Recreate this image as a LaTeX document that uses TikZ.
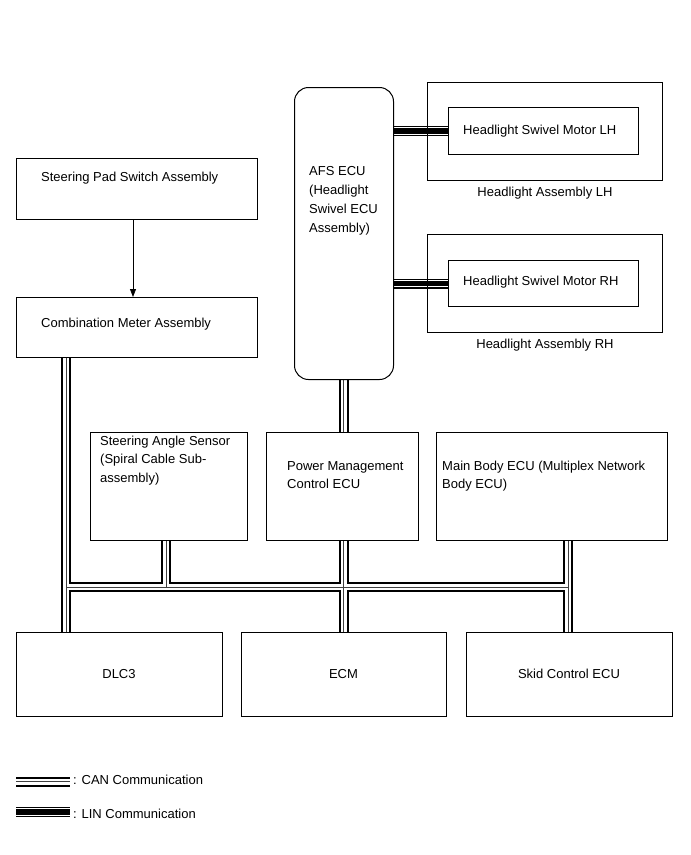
\documentclass[tikz,border=0pt]{standalone}
\usepackage{fontspec}
\setmainfont{Liberation Sans}
\usetikzlibrary{arrows.meta}
\pgfdeclarelayer{bg}
\pgfsetlayers{bg,main}
\newcommand\canroute{(cmeter.south -| cmx) -- (dlc.north -| cmx)
  (busL) -- (busR)
  (sas.south -| sasx) -- (busS)
  (afs.south -| pmx) -- (pmc.north -| pmx)
  (pmc.south -| pmx) -- (ecm.north -| pmx)
  (mbody.south -| mbx) -- (skid.north -| mbx)
  (lc1) -- (lc2)}
\newcommand\linroute{(afs.east |- lhmot.west) -- (lhmot.west)
  (afs.east |- rhmot.west) -- (rhmot.west)
  (ll1) -- (ll2)}
\begin{document}
\begin{tikzpicture}[x=1pt,y=-1pt,
  box/.style={draw, line width=1pt, rectangle, inner sep=0pt, anchor=north west},
  txt/.style={font=\fontsize{13}{19}\selectfont, inner sep=0pt, anchor=base west},
  ctxt/.style={font=\fontsize{13}{19}\selectfont, inner sep=0pt, anchor=base},
  canouter/.style={line width=10pt, black},
  caninner/.style={line width=6pt, white},
  canmid/.style={line width=0.8pt, black!75},
  linouter/.style={line width=10pt, black},
  lininner/.style={line width=7.6pt, white},
  lincore/.style={line width=5.5pt, black},
  arr/.style={line width=0.8pt, -{Triangle[length=8pt,width=6pt]}}
]
\useasboundingbox (0,0) rectangle (691,855);

% boxes
\node[box, minimum width=241pt, minimum height=61pt] (spad) at (16,158) {};
\node[box, minimum width=241pt, minimum height=60pt] (cmeter) at (16,297) {};
\node[box, rounded corners=14pt, minimum width=99pt, minimum height=292pt] (afs) at (294,87) {};
\node[box, minimum width=235pt, minimum height=98pt] (lhout) at (427,82) {};
\node[box, minimum width=190pt, minimum height=47pt] (lhmot) at (448,107) {};
\node[box, minimum width=235pt, minimum height=98pt] (rhout) at (427,234) {};
\node[box, minimum width=190pt, minimum height=46pt] (rhmot) at (448,260) {};
\node[box, minimum width=157pt, minimum height=108pt] (sas) at (90,432) {};
\node[box, minimum width=152pt, minimum height=108pt] (pmc) at (266,432) {};
\node[box, minimum width=231pt, minimum height=108pt] (mbody) at (436,432) {};
\node[box, minimum width=206pt, minimum height=84pt] (dlc) at (16,632) {};
\node[box, minimum width=205pt, minimum height=84pt] (ecm) at (241,632) {};
\node[box, minimum width=206pt, minimum height=84pt] (skid) at (466,632) {};

% texts
\node[txt] (t1) at (41,181) {Steering Pad Switch Assembly};
\node[txt] (t2) at (41,327) {Combination Meter Assembly};
\node[txt] (a1) at (309,175) {AFS ECU};
\node[txt] (a2) at (309,194) {(Headlight};
\node[txt] (a3) at (309,213) {Swivel ECU};
\node[txt] (a4) at (309,232) {Assembly)};
\node[txt] (m1) at (463,134) {Headlight Swivel Motor LH};
\node[txt] (m2) at (463,285) {Headlight Swivel Motor RH};
\node[ctxt] (h1) at (545,196) {Headlight Assembly LH};
\node[ctxt] (h2) at (545,348) {Headlight Assembly RH};
\node[txt] (s1) at (100,445) {Steering Angle Sensor};
\node[txt] (s2) at (100,463) {(Spiral Cable Sub-};
\node[txt] (s3) at (100,482) {assembly)};
\node[txt] (p1) at (287,470) {Power Management};
\node[txt] (p2) at (287,488) {Control ECU};
\node[txt] (b1) at (442,470) {Main Body ECU (Multiplex Network};
\node[txt] (b2) at (442,488) {Body ECU)};
\node[ctxt] (d1) at (119,678) {DLC3};
\node[ctxt] (e1) at (343.5,678) {ECM};
\node[ctxt] (k1) at (569,678) {Skid Control ECU};
\node[txt] (lg1) at (73,784) {: CAN Communication};
\node[txt] (lg2) at (73,818) {: LIN Communication};

% coordinates
\coordinate (cmx) at (66,0);
\coordinate (sasx) at (166,0);
\coordinate (pmx) at (343.5,0);
\coordinate (mbx) at (568,0);
\coordinate (busL) at (66,587);
\coordinate (busR) at (568,587);
\coordinate (busS) at (166,587);
\coordinate (arx) at (133,0);
\coordinate (lc1) at (16,781.5);
\coordinate (lc2) at (70,781.5);
\coordinate (ll1) at (16,812);
\coordinate (ll2) at (70,812);

% arrow
\draw[arr] (spad.south -| arx) -- (cmeter.north -| arx);

\begin{pgfonlayer}{bg}
\draw[canouter] \canroute;
\draw[caninner] \canroute;
\draw[canmid] \canroute;
\draw[linouter] \linroute;
\draw[lininner] \linroute;
\draw[lincore] \linroute;
\end{pgfonlayer}
\end{tikzpicture}
\end{document}
